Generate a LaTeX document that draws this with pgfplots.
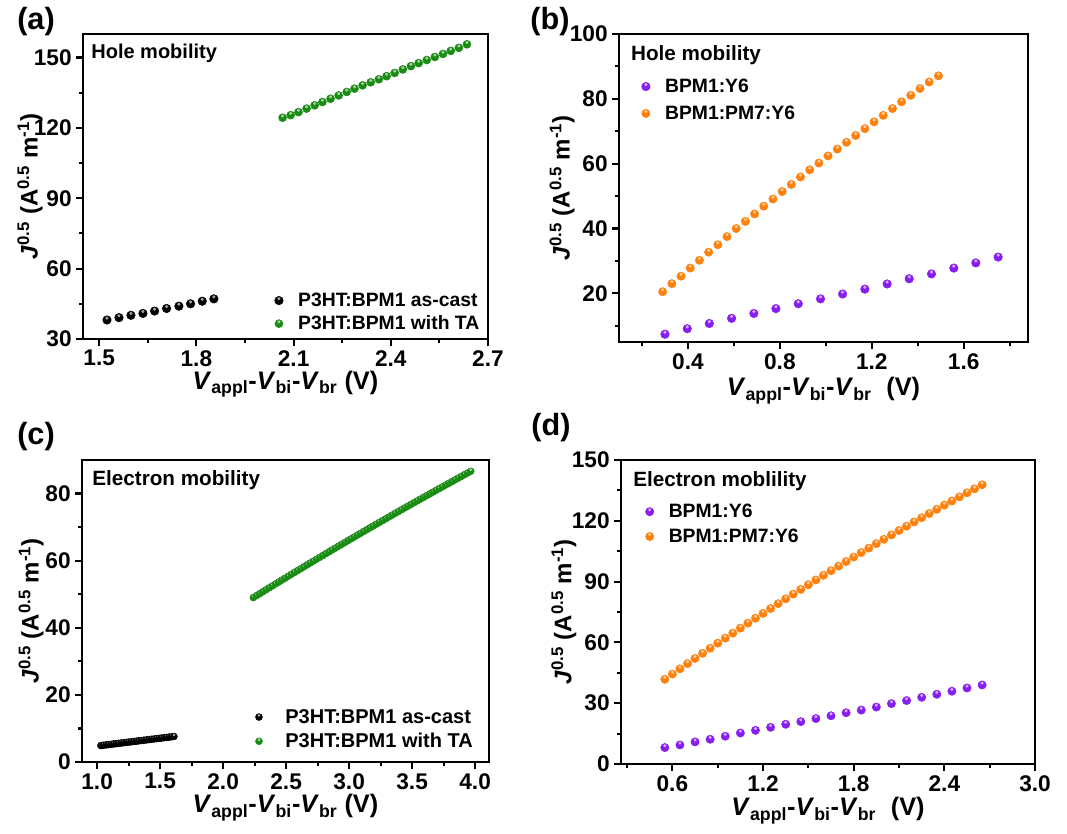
\documentclass[border=0pt]{standalone}
\usepackage{fontspec}
\setmainfont{Liberation Sans}
\usepackage{pgfplots}
\pgfplotsset{compat=1.18}
\definecolor{cgreen}{RGB}{25,140,20}
\definecolor{cpurple}{RGB}{135,30,240}
\definecolor{corange}{RGB}{255,128,10}
\tikzset{ballc/.store in=\ballc, ballc=black}
\pgfdeclareplotmark{sball}{%
  \fill[\ballc] (0pt,0pt) circle (\pgfplotmarksize);
  \fill[white,opacity=0.5] (0pt,0.45\pgfplotmarksize) circle (0.32\pgfplotmarksize);}
\pgfplotsset{
  panel/.style={
    scale only axis,
    axis line style={line width=2pt},
    tick align=outside,
    xtick pos=bottom, ytick pos=left,
    major tick length=5pt, minor tick length=3pt,
    major tick style={line width=1.6pt, black},
    minor tick style={line width=1.6pt, black},
    /pgf/number format/assume math mode=true,
    tick label style={font=\fontsize{17}{19}\selectfont\bfseries},
    xlabel style={font=\fontsize{19}{22}\selectfont\bfseries},
    ylabel style={font=\fontsize{18}{21}\selectfont\bfseries},
    ylabel={\textit{J}\textsuperscript{0.5} (A\textsuperscript{0.5} m\textsuperscript{-1})},
    legend cell align=left,
    legend style={draw=none, fill=none, inner sep=0pt},
    only marks,
    clip=false,
  },
  fix1/.style={xticklabel style={/pgf/number format/.cd, fixed, fixed zerofill, precision=1}},
}
\begin{document}
\begin{tikzpicture}
\path[use as bounding box] (0,0) rectangle (800.25pt,625.5pt);
\node[font=\fontsize{23}{26}\selectfont\bfseries] at (27pt,609pt) {(a)};
\node[font=\fontsize{23}{26}\selectfont\bfseries] at (412.5pt,609pt) {(b)};
\node[font=\fontsize{23}{26}\selectfont\bfseries] at (27pt,297.75pt) {(c)};
\node[font=\fontsize{23}{26}\selectfont\bfseries] at (413.25pt,304.5pt) {(d)};

% (a)
\begin{axis}[panel, fix1, at={(62.25pt,371.25pt)}, anchor=south west,
  width=303.75pt, height=228.75pt,
  xmin=1.45, xmax=2.7, ymin=30, ymax=160,
  xtick={1.5,1.8,2.1,2.4,2.7}, ytick={30,60,90,120,150},
  minor xtick={1.65,1.95,2.25,2.55}, minor ytick={45,75,105,135},
  xlabel={\textit{V}\textsubscript{appl}-\textit{V}\textsubscript{bi}-\textit{V}\textsubscript{br} (V)},
  xlabel style={at={(axis description cs:0.5,-0.148)}, anchor=center},
  ylabel style={at={(axis description cs:-0.131,0.5)}, anchor=center},
  legend style={at={(axis description cs:0.472,0.161)}, anchor=north west, row sep=1.5pt,
    /tikz/every odd column/.append style={column sep=9pt},
    font=\fontsize{14.5}{16}\selectfont\bfseries},
]
\addplot[mark=sball, mark size=3.2pt, mark options={ballc=black}] coordinates {
(1.524,38.1)(1.561,39.1)(1.598,40.1)(1.635,40.9)(1.671,41.9)(1.708,43.0)(1.746,44.0)(1.782,45.0)(1.818,46.1)(1.854,47.1)};
\addlegendentry{P3HT:BPM1 as-cast}
\addplot[mark=sball, mark size=3pt, mark options={ballc=cgreen}] coordinates {
(2.066,124.3)(2.091,125.4)(2.115,126.7)(2.140,128.2)(2.165,129.6)(2.189,131.0)(2.214,132.4)(2.239,133.8)(2.264,135.3)(2.288,136.7)(2.313,138.1)(2.338,139.4)(2.363,140.7)(2.387,142.0)(2.412,143.4)(2.437,144.9)(2.462,146.3)(2.486,147.6)(2.511,148.9)(2.536,150.2)(2.561,151.5)(2.585,152.8)(2.610,154.1)(2.635,155.6)};
\addlegendentry{P3HT:BPM1 with TA}
\node[anchor=west, inner sep=0pt, font=\fontsize{15}{17}\selectfont\bfseries] at (axis description cs:0.02,0.938) {Hole mobility};
\end{axis}

% (b)
\begin{axis}[panel, fix1, at={(464.25pt,369pt)}, anchor=south west,
  width=306.75pt, height=231pt,
  xmin=0.1, xmax=1.88, ymin=5, ymax=100,
  xtick={0.4,0.8,1.2,1.6}, ytick={20,40,60,80,100},
  minor xtick={0.2,0.6,1.0,1.4,1.8}, minor ytick={10,30,50,70,90},
  xlabel={\textit{V}\textsubscript{appl}-\textit{V}\textsubscript{bi}-\textit{V}\textsubscript{br}\hspace{0.3em} (V)},
  xlabel style={at={(axis description cs:0.5,-0.158)}, anchor=center},
  ylabel style={at={(axis description cs:-0.139,0.5)}, anchor=center},
  legend style={at={(axis description cs:0.054,0.864)}, anchor=north west, row sep=4.5pt,
    /tikz/every odd column/.append style={column sep=9pt},
    font=\fontsize{14.5}{17}\selectfont\bfseries},
]
\addplot[mark=sball, mark size=3.2pt, mark options={ballc=cpurple}] coordinates {
(0.300,7.4)(0.397,9.1)(0.493,10.7)(0.590,12.3)(0.687,13.8)(0.783,15.3)(0.880,16.8)(0.977,18.3)(1.073,19.8)(1.170,21.3)(1.267,22.9)(1.363,24.5)(1.460,26.0)(1.557,27.8)(1.653,29.4)(1.750,31.2)};
\addlegendentry{BPM1:Y6}
\addplot[mark=sball, mark size=3.1pt, mark options={ballc=corange}] coordinates {
(0.29,20.5)(0.33,23.0)(0.37,25.3)(0.41,27.8)(0.45,30.2)(0.49,32.7)(0.53,35.0)(0.57,37.5)(0.61,40.0)(0.65,42.2)(0.69,44.5)(0.73,46.9)(0.77,49.1)(0.81,51.4)(0.85,53.6)(0.89,55.9)(0.93,58.1)(0.97,60.2)(1.01,62.4)(1.05,64.5)(1.09,66.6)(1.13,68.7)(1.17,70.8)(1.21,72.9)(1.25,74.9)(1.29,77.0)(1.33,79.1)(1.37,81.1)(1.41,83.2)(1.45,85.2)(1.49,87.1)};
\addlegendentry{BPM1:PM7:Y6}
\node[anchor=west, inner sep=0pt, font=\fontsize{15.5}{17}\selectfont\bfseries] at (axis description cs:0.029,0.932) {Hole mobility};
\end{axis}

% (c)
\begin{axis}[panel, fix1, at={(61.5pt,54pt)}, anchor=south west,
  width=305.25pt, height=226.5pt,
  xmin=0.88, xmax=4.11, ymin=0, ymax=90,
  xtick={1.0,1.5,2.0,2.5,3.0,3.5,4.0}, ytick={0,20,40,60,80},
  minor xtick={1.25,1.75,2.25,2.75,3.25,3.75}, minor ytick={10,30,50,70},
  xlabel={\textit{V}\textsubscript{appl}-\textit{V}\textsubscript{bi}-\textit{V}\textsubscript{br} (V)},
  xlabel style={at={(axis description cs:0.5,-0.152)}, anchor=center},
  ylabel style={at={(axis description cs:-0.125,0.5)}, anchor=center},
  legend style={at={(axis description cs:0.425,0.185)}, anchor=north west, row sep=2pt,
    /tikz/every odd column/.append style={column sep=15pt},
    font=\fontsize{15}{17}\selectfont\bfseries},
]
\addplot[mark=sball, mark size=2.6pt, mark options={ballc=black}] coordinates {
(1.03,4.90)(1.05,4.99)(1.07,5.09)(1.09,5.18)(1.11,5.27)(1.13,5.37)(1.15,5.46)(1.17,5.55)(1.19,5.64)(1.21,5.74)(1.23,5.83)(1.25,5.92)(1.27,6.02)(1.29,6.11)(1.31,6.20)(1.33,6.30)(1.35,6.39)(1.37,6.48)(1.39,6.58)(1.41,6.67)(1.43,6.76)(1.45,6.85)(1.47,6.95)(1.49,7.04)(1.51,7.13)(1.53,7.23)(1.55,7.32)(1.57,7.41)(1.59,7.51)(1.61,7.60)};
\addlegendentry{P3HT:BPM1 as-cast}
\addplot[mark=sball, mark size=2.6pt, mark options={ballc=cgreen}] coordinates {
(2.240,49.00)(2.265,49.58)(2.290,50.16)(2.315,50.74)(2.340,51.31)(2.365,51.89)(2.390,52.46)(2.415,53.04)(2.440,53.61)(2.465,54.18)
(2.490,54.75)(2.515,55.32)(2.540,55.89)(2.565,56.46)(2.590,57.02)(2.615,57.59)(2.640,58.15)(2.665,58.72)(2.690,59.28)(2.715,59.84)
(2.740,60.40)(2.765,60.96)(2.790,61.52)(2.815,62.08)(2.840,62.63)(2.865,63.19)(2.890,63.74)(2.915,64.30)(2.940,64.85)(2.965,65.40)
(2.990,65.95)(3.015,66.50)(3.040,67.05)(3.065,67.60)(3.090,68.14)(3.115,68.69)(3.140,69.23)(3.165,69.78)(3.190,70.32)(3.215,70.86)
(3.240,71.40)(3.265,71.94)(3.290,72.48)(3.315,73.02)(3.340,73.55)(3.365,74.09)(3.390,74.62)(3.415,75.16)(3.440,75.69)(3.465,76.22)
(3.490,76.75)(3.515,77.28)(3.540,77.81)(3.565,78.34)(3.590,78.86)(3.615,79.39)(3.640,79.91)(3.665,80.44)(3.690,80.96)(3.715,81.48)
(3.740,82.00)(3.765,82.52)(3.790,83.04)(3.815,83.56)(3.840,84.07)(3.865,84.59)(3.890,85.10)(3.915,85.62)(3.940,86.13)(3.965,86.64)};
\addlegendentry{P3HT:BPM1 with TA}
\node[anchor=west, inner sep=0pt, font=\fontsize{15.5}{17}\selectfont\bfseries] at (axis description cs:0.025,0.934) {Electron mobility};
\end{axis}

% (d)
\begin{axis}[panel, fix1, at={(465.75pt,52.5pt)}, anchor=south west,
  width=310.5pt, height=228pt,
  xmin=0.26, xmax=3.0, ymin=0, ymax=150,
  xtick={0.6,1.2,1.8,2.4,3.0}, ytick={0,30,60,90,120,150},
  minor xtick={0.3,0.9,1.5,2.1,2.7}, minor ytick={15,45,75,105,135},
  xlabel={\textit{V}\textsubscript{appl}-\textit{V}\textsubscript{bi}-\textit{V}\textsubscript{br}\hspace{0.3em} (V)},
  xlabel style={at={(axis description cs:0.5,-0.154)}, anchor=center},
  ylabel style={at={(axis description cs:-0.138,0.5)}, anchor=center},
  legend style={at={(axis description cs:0.058,0.865)}, anchor=north west, row sep=3pt,
    /tikz/every odd column/.append style={column sep=9pt},
    font=\fontsize{14.5}{17}\selectfont\bfseries},
]
\addplot[mark=sball, mark size=3.1pt, mark options={ballc=cpurple}] coordinates {
(0.55,8.1)(0.65,9.4)(0.75,10.9)(0.85,12.2)(0.95,13.7)(1.05,15.3)(1.15,16.6)(1.25,18.1)(1.35,19.6)(1.45,20.9)(1.55,22.4)(1.65,23.8)(1.75,25.3)(1.85,26.6)(1.95,28.1)(2.05,29.8)(2.15,31.3)(2.25,32.9)(2.35,34.4)(2.45,35.9)(2.55,37.5)(2.65,39.0)};
\addlegendentry{BPM1:Y6}
\addplot[mark=sball, mark size=3.1pt, mark options={ballc=corange}] coordinates {
(0.55,41.80)(0.60,44.39)(0.65,46.97)(0.70,49.53)(0.75,52.08)(0.80,54.61)(0.85,57.13)(0.90,59.63)(0.95,62.12)(1.00,64.59)
(1.05,67.05)(1.10,69.49)(1.15,71.92)(1.20,74.33)(1.25,76.73)(1.30,79.11)(1.35,81.48)(1.40,83.83)(1.45,86.17)(1.50,88.49)
(1.55,90.80)(1.60,93.09)(1.65,95.37)(1.70,97.63)(1.75,99.88)(1.80,102.11)(1.85,104.33)(1.90,106.53)(1.95,108.72)(2.00,110.89)
(2.05,113.05)(2.10,115.19)(2.15,117.32)(2.20,119.43)(2.25,121.53)(2.30,123.61)(2.35,125.68)(2.40,127.73)(2.45,129.77)(2.50,131.79)
(2.55,133.80)(2.60,135.79)(2.65,137.77)};
\addlegendentry{BPM1:PM7:Y6}
\node[anchor=west, inner sep=0pt, font=\fontsize{15.5}{17}\selectfont\bfseries] at (axis description cs:0.029,0.931) {Electron moblility};
\end{axis}
\end{tikzpicture}
\end{document}
